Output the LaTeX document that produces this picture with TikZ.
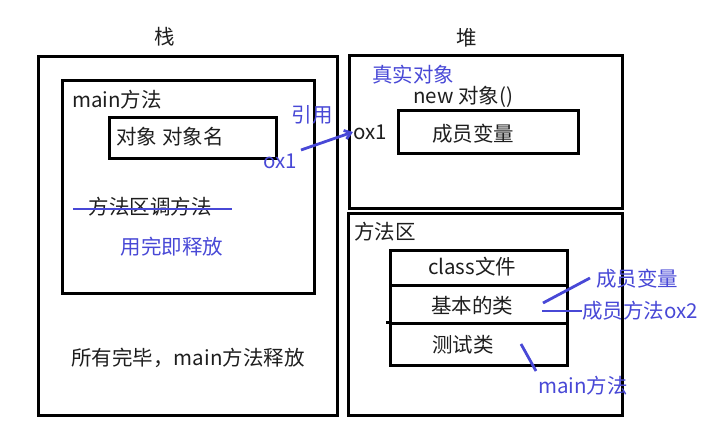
\documentclass[tikz,border=0pt]{standalone}
\usepackage{fontspec}
\setmainfont{Noto Sans CJK SC}
\usetikzlibrary{arrows.meta}
\definecolor{ann}{RGB}{72,72,214}
\definecolor{ink}{RGB}{30,30,30}
\begin{document}
\begin{tikzpicture}[x=1pt,y=-1pt,
  box/.style={draw,line width=3pt,inner sep=0pt,anchor=north west},
  txt/.style={font=\fontsize{20.5}{20.5}\selectfont,inner sep=0pt,text=ink},
  note/.style={font=\fontsize{20.5}{20.5}\selectfont,inner sep=0pt,text=ann},
  link/.style={draw=ann,line width=2.8pt}]
\useasboundingbox (0,0) rectangle (715,429);
% boxes
\node[box,minimum width=299pt,minimum height=359pt] (stack) at (37,55) {};
\node[box,minimum width=252pt,minimum height=213pt] (mainbox) at (61,79) {};
\node[box,minimum width=167pt,minimum height=41pt] (objbox) at (108,116) {};
\node[box,minimum width=273pt,minimum height=153pt] (heap) at (348,54) {};
\node[box,minimum width=180pt,minimum height=43pt] (membox) at (397,109) {};
\node[box,minimum width=274pt,minimum height=202pt] (method) at (347,212) {};
\node[box,minimum width=177pt,minimum height=35pt] (row1) at (389,249) {};
\node[box,minimum width=177pt,minimum height=38pt] (row2) at (389,284) {};
\node[box,minimum width=177pt,minimum height=42pt] (row3) at (389,322) {};
\coordinate (rowtick) at (386,322);
\draw[line width=3pt] (rowtick) -- (row3.north west);
% titles
\node[txt] (tstack) at (165,37) {栈};
\node[txt] (theap) at (467,38) {堆};
% texts
\node[txt] (tmain) at (117,100) {main方法};
\node[txt] (tobj) at (170,137) {对象 对象名};
\node[txt] (tcall) at (150,207) {方法区调方法};
\node[txt] (tall) at (188,358) {所有完毕，main方法释放};
\node[txt] (tnew) at (463,97) {new 对象()};
\node[txt] (tox1) at (370,132) {ox1};
\node[txt] (tmem) at (473,134) {成员变量};
\node[txt] (tmarea) at (385,232) {方法区};
\node[txt] (tclass) at (472,267) {class文件};
\node[txt] (tbasic) at (472,306) {基本的类};
\node[txt] (ttest) at (463,345) {测试类};
% annotations
\node[note] (nreal) at (413,75) {真实对象};
\node[note] (nref) at (312,115) {引用};
\node[note] (nox1) at (280,161) {ox1};
\node[note] (nfree) at (172,247) {用完即释放};
\node[note] (nmemv) at (637,279) {成员变量};
\node[note] (nmeth) at (640,311) {成员方法ox2};
\node[note] (nmain) at (583,386) {main方法};
% connectors
\coordinate (sa) at (73,209);
\coordinate (sb) at (232,209);
\draw[link] (sa) -- (sb);
\coordinate (a1) at (301,150);
\draw[link,-{Straight Barb[length=6pt,width=9pt]}] (a1) -- (tox1.west);
\coordinate (l1a) at (543,303);
\coordinate (l1b) at (590,278);
\draw[link] (l1a) -- (l1b);
\coordinate (l2a) at (542,311);
\draw[link] (l2a) -- (nmeth.west);
\coordinate (l3a) at (521,344);
\coordinate (l3b) at (536,371);
\draw[link] (l3a) -- (l3b);
\end{tikzpicture}
\end{document}
